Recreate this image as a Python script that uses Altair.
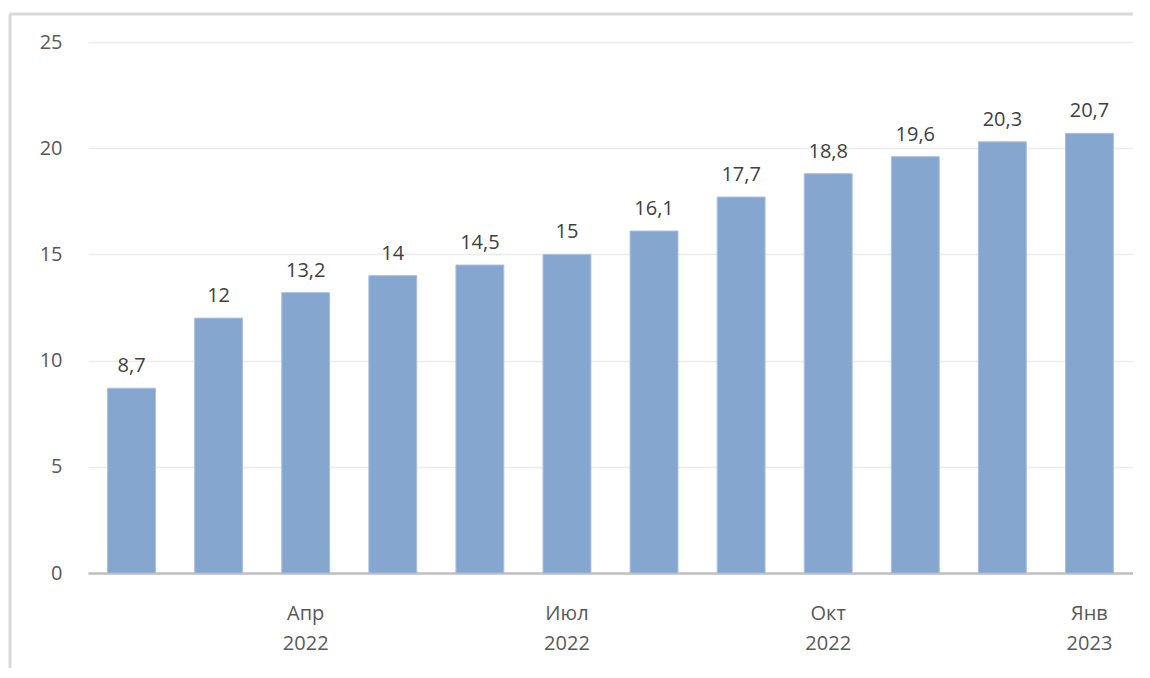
import altair as alt
import pandas as pd

months = ["Фев 2022", "Мар 2022", "Апр 2022", "Май 2022", "Июн 2022", "Июл 2022",
          "Авг 2022", "Сен 2022", "Окт 2022", "Ноя 2022", "Дек 2022", "Янв 2023"]
values = [8.7, 12, 13.2, 14, 14.5, 15, 16.1, 17.7, 18.8, 19.6, 20.3, 20.7]
shown_labels = ["Апр 2022", "Июл 2022", "Окт 2022", "Янв 2023"]
y_ticks = [0, 5, 10, 15, 20, 25]

def fmt(v):
    s = f"{v:g}"
    return s.replace(".", ",")

df = pd.DataFrame({"month": months, "value": values,
                   "label": [fmt(v) for v in values]})

FONT = "Open Sans"
shown_js = "[" + ",".join(f"'{s}'" for s in shown_labels) + "]"

x = alt.X("month:N", sort=months, title=None,
          scale=alt.Scale(paddingInner=0.45, paddingOuter=0.225),
          axis=alt.Axis(
              labelExpr=f"indexof({shown_js}, datum.value) >= 0 ? split(datum.value, ' ') : ''",
              labelAngle=0, labelFont=FONT, labelFontSize=20, labelColor="#595959",
              labelLineHeight=30, labelPadding=30, ticks=False,
              domain=True, domainColor="#bfbfbf", domainWidth=2.5, grid=False))
y = alt.Y("value:Q", title=None,
          scale=alt.Scale(domain=[0, 25], nice=False),
          axis=alt.Axis(values=y_ticks, labelFont=FONT, labelFontSize=20,
                        labelColor="#595959", labelPadding=26, ticks=False,
                        domain=False, grid=True, gridColor="#ececec", gridWidth=1.5))

bars = alt.Chart(df).mark_bar(color="#84a6cf", stroke="#a9c1df", strokeWidth=1).encode(x=x, y=y)

text = alt.Chart(df).mark_text(baseline="bottom", dy=-12, font=FONT, fontSize=20,
                               color="#404040").encode(
    x=alt.X("month:N", sort=months), y="value:Q", text="label:N")

deco = pd.DataFrame({"a": [0]})
left_border = alt.Chart(deco).mark_rule(color="#d9d9d9", strokeWidth=3, clip=False).encode(
    x=alt.value(-78), y=alt.value(-28), y2=alt.value(700))
top_border = alt.Chart(deco).mark_rule(color="#d9d9d9", strokeWidth=3, clip=False).encode(
    x=alt.value(-78), x2=alt.value(1200), y=alt.value(-28))

chart = alt.layer(left_border, top_border, bars, text).properties(
    width=1045, height=531,
    autosize=alt.AutoSizeParams(type="none"),
    padding={"left": 80, "top": 34, "right": 0, "bottom": 95},
).configure_view(stroke=None)

chart.save("out.html", embed_options={"renderer": "svg", "actions": False})
